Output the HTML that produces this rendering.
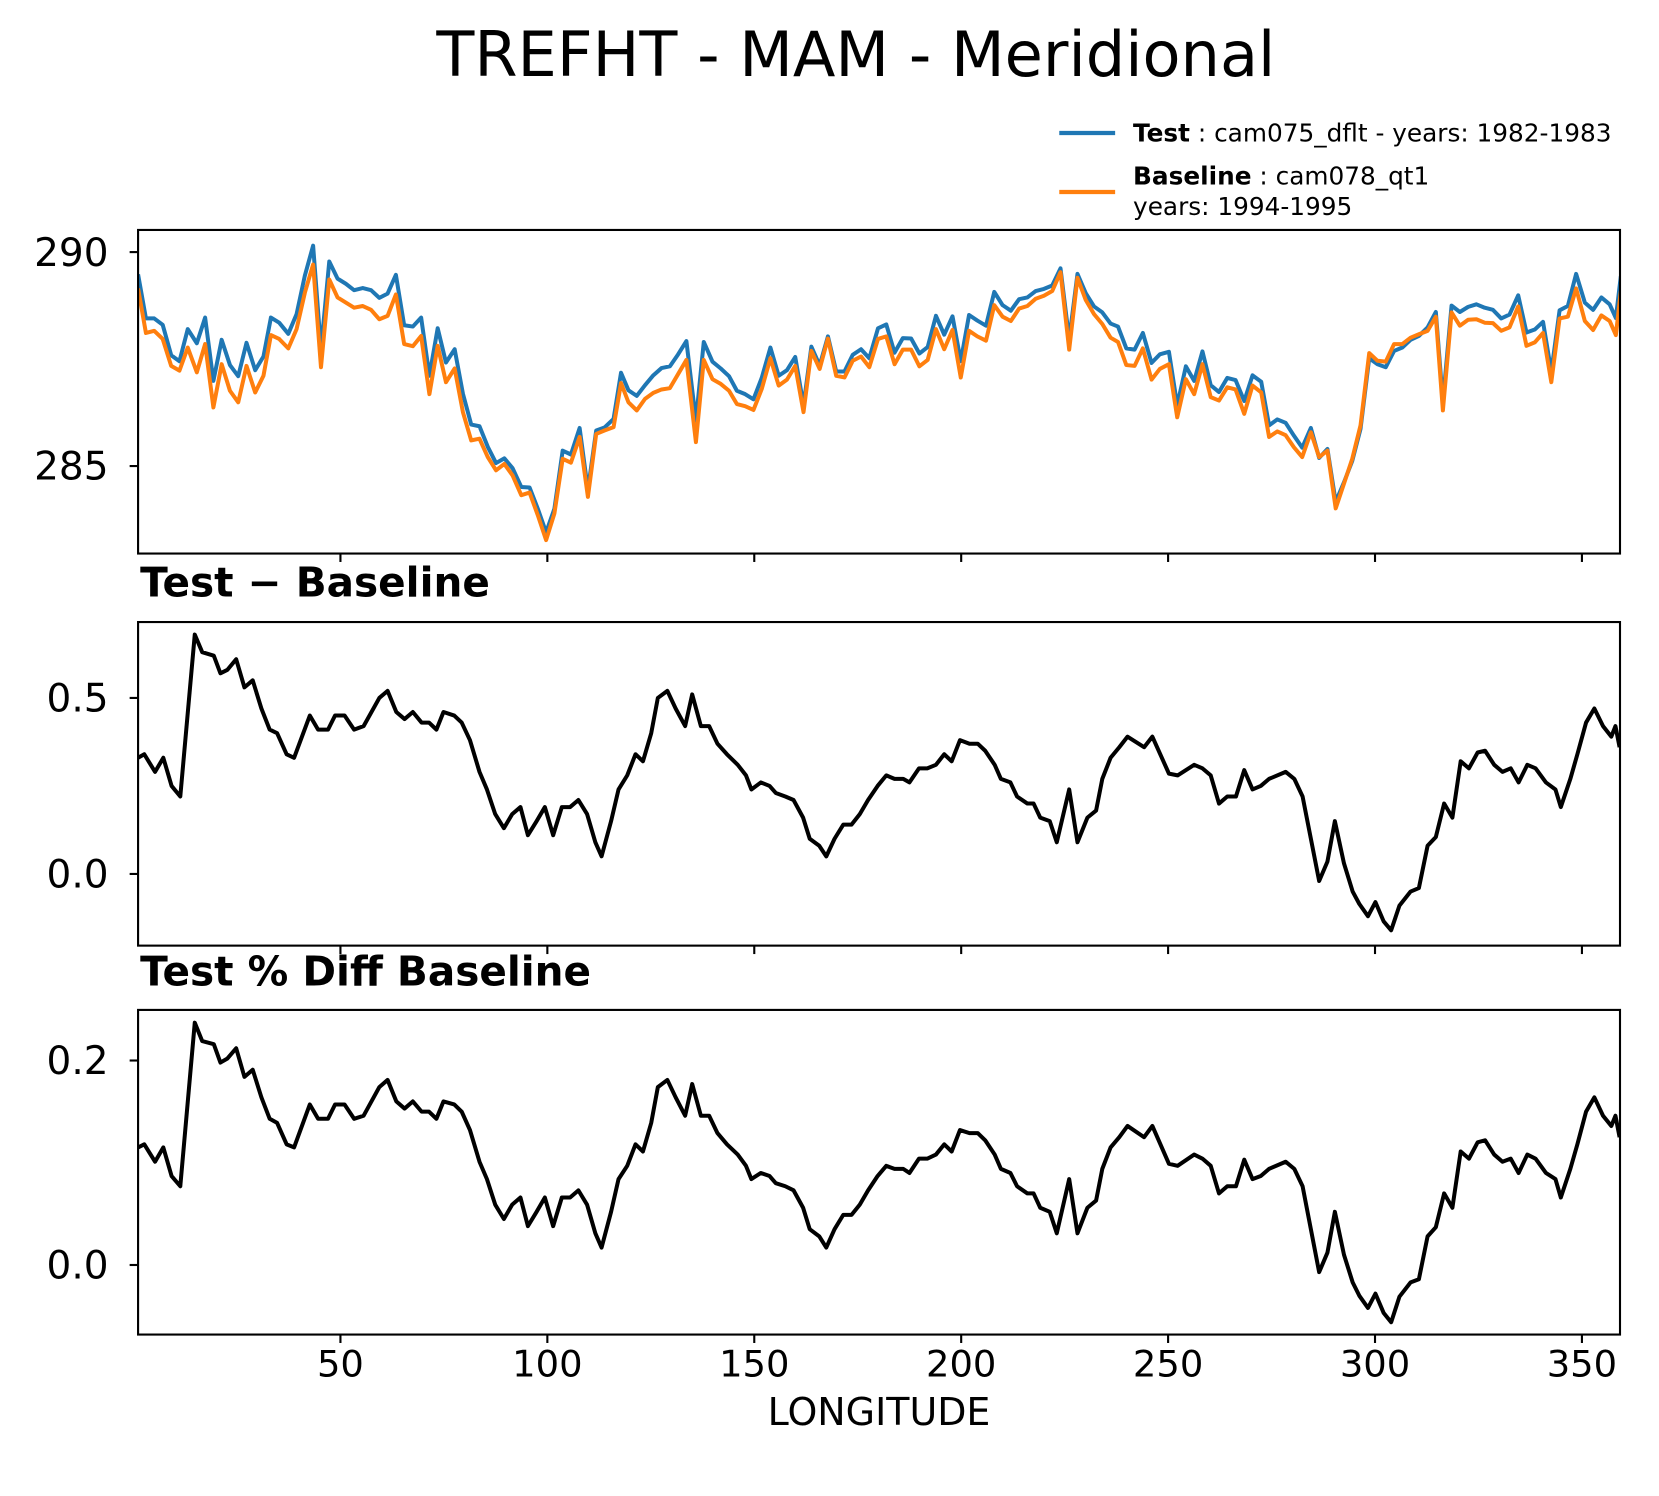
<!DOCTYPE html>
<html><head><meta charset="utf-8"><style>
html,body{margin:0;padding:0;background:#fff;}
svg{display:block;font-family:"DejaVu Sans","Liberation Sans",sans-serif;}
</style></head><body>
<svg id="fig" width="1659" height="1496" viewBox="0 0 1574 1419" xmlns="http://www.w3.org/2000/svg">
<rect width="1574" height="1419" fill="#fff"/>
<text x="812" y="72" font-size="59" text-anchor="middle">TREFHT - MAM - Meridional</text>
<g>
<line x1="1005" y1="126" x2="1058" y2="126" stroke="#1f77b4" stroke-width="4"/>
<text x="1075" y="134" font-size="23.5"><tspan font-weight="bold">Test</tspan> : cam075_dflt - years: 1982-1983</text>
<line x1="1005" y1="182" x2="1058" y2="182" stroke="#ff7f0e" stroke-width="4"/>
<text x="1075" y="175" font-size="23.5"><tspan font-weight="bold">Baseline</tspan> : cam078_qt1</text>
<text x="1075" y="204" font-size="23.5">years: 1994-1995</text>
</g>
<text x="133" y="566" font-size="38.5" font-weight="bold">Test − Baseline</text>
<text x="133" y="935" font-size="38.5" font-weight="bold">Test % Diff Baseline</text>
<text x="834" y="1352" font-size="36" text-anchor="middle">LONGITUDE</text>
<g id="plots"></g>
</svg>
<script>
const lonTop=[1.1,3.0,5.0,7.05,9.1,11.1,13.1,15.3,17.3,19.3,21.3,23.3,25.3,27.3,29.4,31.4,33.2,35.2,37.4,39.4,41.4,43.4,45.3,47.3,49.3,51.3,53.3,55.4,57.4,59.4,61.4,63.4,65.4,67.5,69.5,71.5,73.5,75.5,77.6,79.6,81.6,83.6,85.6,87.6,89.6,91.6,93.7,95.7,97.7,99.7,101.7,103.7,105.7,107.8,109.8,111.8,113.8,116.0,117.8,119.6,121.6,123.6,125.6,127.6,129.6,131.6,133.6,135.9,137.8,139.9,141.9,143.9,145.8,147.8,149.8,151.8,153.9,155.9,157.9,159.9,161.9,163.8,165.8,167.8,169.8,171.8,173.8,175.8,177.8,179.9,181.9,183.9,185.9,187.9,189.9,191.9,193.9,195.9,197.9,199.9,201.9,203.9,206.0,208.0,210.0,212.0,214.0,216.0,218.0,220.0,222.0,224.0,226.1,228.1,230.1,232.1,234.1,236.1,237.9,239.9,241.9,243.9,246.0,248.0,250.2,252.2,254.3,256.3,258.3,260.3,262.3,264.3,266.3,268.4,270.4,272.5,274.4,276.4,278.4,280.4,282.4,284.5,286.5,288.5,290.5,292.5,294.5,296.5,298.6,300.6,302.6,304.6,306.6,308.6,310.6,312.7,314.7,316.4,318.5,320.5,322.5,324.5,326.5,328.5,330.5,332.5,334.6,336.6,338.6,340.6,342.6,344.6,346.6,348.6,350.7,352.7,354.7,356.7,358.2,359.4];
const baseline=[289.15,288.11,288.16,287.97,287.34,287.23,287.77,287.19,287.85,286.37,287.38,286.76,286.49,287.34,286.72,287.11,288.06,287.97,287.75,288.20,289.05,289.71,287.31,289.36,288.94,288.82,288.70,288.74,288.65,288.43,288.51,289.01,287.85,287.80,288.04,286.68,287.81,286.96,287.28,286.26,285.60,285.64,285.21,284.90,285.05,284.78,284.32,284.38,283.85,283.27,283.89,285.17,285.08,285.68,284.28,285.75,285.83,285.91,286.94,286.49,286.30,286.57,286.71,286.79,286.82,287.15,287.48,285.56,287.48,287.03,286.92,286.76,286.45,286.40,286.31,286.80,287.52,286.88,287.02,287.34,286.26,287.69,287.27,287.98,287.11,287.07,287.46,287.56,287.31,287.97,288.03,287.38,287.72,287.72,287.33,287.48,288.20,287.73,288.18,287.07,288.16,288.03,287.93,288.76,288.49,288.39,288.68,288.74,288.91,288.98,289.09,289.53,287.72,289.40,288.88,288.55,288.32,288.00,287.90,287.36,287.34,287.75,287.02,287.27,287.38,286.14,287.03,286.68,287.38,286.61,286.53,286.84,286.79,286.22,286.88,286.72,285.68,285.81,285.72,285.44,285.21,285.79,285.21,285.36,284.01,284.59,285.17,285.95,287.64,287.46,287.44,287.85,287.85,288.00,288.08,288.16,288.49,286.30,288.59,288.28,288.42,288.43,288.35,288.34,288.16,288.24,288.73,287.81,287.89,288.11,286.96,288.45,288.49,289.15,288.39,288.18,288.52,288.39,288.06,289.09];
const test=[289.48,288.45,288.45,288.30,287.59,287.45,288.20,287.87,288.47,286.99,287.95,287.36,287.10,287.88,287.24,287.56,288.47,288.35,288.09,288.55,289.45,290.15,287.72,289.78,289.38,289.26,289.11,289.16,289.11,288.93,289.03,289.47,288.29,288.26,288.47,287.11,288.22,287.42,287.73,286.69,285.97,285.93,285.45,285.07,285.18,284.95,284.51,284.50,284.00,283.45,284.00,285.36,285.27,285.89,284.44,285.83,285.90,286.10,287.18,286.77,286.64,286.89,287.12,287.29,287.33,287.61,287.92,286.06,287.90,287.44,287.28,287.10,286.76,286.68,286.56,287.06,287.77,287.11,287.24,287.55,286.42,287.79,287.35,288.03,287.21,287.21,287.60,287.73,287.52,288.22,288.31,287.65,287.99,287.98,287.63,287.78,288.51,288.07,288.50,287.45,288.53,288.40,288.28,289.07,288.76,288.63,288.90,288.94,289.09,289.14,289.22,289.62,287.96,289.49,289.04,288.73,288.59,288.33,288.26,287.75,287.72,288.11,287.41,287.61,287.67,286.42,287.33,286.99,287.68,286.89,286.73,287.06,287.01,286.52,287.12,286.97,285.95,286.09,286.01,285.71,285.43,285.89,285.19,285.40,284.16,284.62,285.12,285.87,287.52,287.38,287.31,287.69,287.77,287.95,288.04,288.24,288.60,286.50,288.75,288.60,288.72,288.78,288.70,288.65,288.45,288.54,288.99,288.12,288.19,288.37,287.20,288.64,288.74,289.49,288.82,288.65,288.94,288.78,288.46,289.44];
const lonDiff=[1.1,2.6,5.2,7.2,9.2,11.3,14.8,16.6,19.4,21.0,22.7,24.8,26.8,28.8,30.9,32.9,34.7,37.0,38.8,42.6,44.6,47.0,48.7,51.0,53.3,55.6,59.4,61.4,63.5,65.5,67.5,69.6,71.4,73.2,74.9,77.5,79.3,81.3,83.6,85.4,87.4,89.5,91.5,93.5,95.3,97.4,99.4,101.4,103.5,105.5,107.5,109.6,111.6,113.1,115.4,117.2,119.3,121.3,123.1,125.1,126.7,129.0,131.0,133.3,135.0,137.1,139.1,141.1,143.4,146.0,148.0,149.3,151.6,153.7,155.2,157.5,159.5,161.8,163.4,165.7,167.4,169.4,171.5,173.5,175.5,177.5,179.8,181.9,183.9,186.0,187.5,189.8,191.8,193.9,195.9,197.7,199.7,202.0,204.0,205.8,208.1,209.6,211.9,213.5,216.0,217.5,219.1,221.4,223.1,226.1,228.1,230.5,232.6,234.1,236.1,238.2,240.2,244.2,246.2,250.2,252.3,256.3,258.3,260.3,262.3,264.3,266.4,268.4,270.4,272.4,274.4,278.4,280.5,282.5,284.5,286.5,288.5,290.3,292.5,294.6,296.2,298.3,300.1,302.1,303.9,305.9,308.6,310.6,312.7,314.7,316.7,318.7,320.7,322.7,324.8,326.6,328.8,330.8,332.8,334.7,336.8,338.8,341.3,343.6,344.9,347.2,348.9,351.0,353.0,355.1,357.1,358.1,359.1];
const diff=[0.33,0.34,0.29,0.33,0.25,0.22,0.68,0.63,0.62,0.57,0.58,0.61,0.53,0.55,0.47,0.41,0.40,0.34,0.33,0.45,0.41,0.41,0.45,0.45,0.41,0.42,0.50,0.52,0.46,0.44,0.46,0.43,0.43,0.41,0.46,0.45,0.43,0.38,0.29,0.24,0.17,0.13,0.17,0.19,0.11,0.15,0.19,0.11,0.19,0.19,0.21,0.17,0.09,0.05,0.15,0.24,0.28,0.34,0.32,0.40,0.50,0.52,0.47,0.42,0.51,0.42,0.42,0.37,0.34,0.31,0.28,0.24,0.26,0.25,0.23,0.22,0.21,0.16,0.10,0.08,0.05,0.10,0.14,0.14,0.17,0.21,0.25,0.28,0.27,0.27,0.26,0.30,0.30,0.31,0.34,0.32,0.38,0.37,0.37,0.35,0.31,0.27,0.26,0.22,0.20,0.20,0.16,0.15,0.09,0.24,0.09,0.16,0.18,0.27,0.33,0.36,0.39,0.36,0.39,0.285,0.28,0.31,0.30,0.28,0.20,0.22,0.22,0.295,0.24,0.25,0.27,0.29,0.27,0.22,0.10,-0.02,0.035,0.15,0.03,-0.05,-0.085,-0.12,-0.08,-0.135,-0.16,-0.09,-0.05,-0.04,0.08,0.105,0.20,0.16,0.32,0.30,0.345,0.35,0.31,0.29,0.30,0.26,0.31,0.30,0.26,0.24,0.19,0.27,0.34,0.43,0.47,0.42,0.39,0.42,0.36];
const pctDiff=[0.115,0.118,0.101,0.115,0.087,0.077,0.237,0.219,0.216,0.198,0.202,0.212,0.184,0.191,0.164,0.143,0.139,0.118,0.115,0.157,0.143,0.143,0.157,0.157,0.143,0.146,0.174,0.181,0.160,0.153,0.160,0.150,0.150,0.143,0.160,0.157,0.150,0.132,0.101,0.084,0.059,0.045,0.059,0.066,0.038,0.052,0.066,0.038,0.066,0.066,0.073,0.059,0.031,0.017,0.052,0.084,0.097,0.118,0.111,0.139,0.174,0.181,0.164,0.146,0.177,0.146,0.146,0.129,0.118,0.108,0.097,0.084,0.090,0.087,0.080,0.077,0.073,0.056,0.035,0.028,0.017,0.035,0.049,0.049,0.059,0.073,0.087,0.097,0.094,0.094,0.090,0.104,0.104,0.108,0.118,0.111,0.132,0.129,0.129,0.122,0.108,0.094,0.090,0.077,0.070,0.070,0.056,0.052,0.031,0.084,0.031,0.056,0.063,0.094,0.115,0.125,0.136,0.125,0.136,0.099,0.097,0.108,0.104,0.097,0.070,0.077,0.077,0.103,0.084,0.087,0.094,0.101,0.094,0.077,0.035,-0.007,0.012,0.052,0.010,-0.017,-0.030,-0.042,-0.028,-0.047,-0.056,-0.031,-0.017,-0.014,0.028,0.037,0.070,0.056,0.111,0.104,0.120,0.122,0.108,0.101,0.104,0.090,0.108,0.104,0.090,0.084,0.066,0.094,0.118,0.150,0.164,0.146,0.136,0.146,0.125];
const xTicks=[50,100,150,200,250,300,350];
const topTicks=[285,290];
const diffTicks=[0.0,0.5];
const pctTicks=[0.0,0.2];

const NS='http://www.w3.org/2000/svg';
const L=131,R=1537;
const xDomain=[1.1,359.2];
function xs(v){return L+(v-xDomain[0])/(xDomain[1]-xDomain[0])*(R-L);}
function mk(tag,attrs,parent){const e=document.createElementNS(NS,tag);for(const k in attrs)e.setAttribute(k,attrs[k]);parent.appendChild(e);return e;}
const root=document.getElementById('plots');
const panels=[
 {top:218,bot:525,y0:285,py0:442,y1:290,py1:239,ticks:topTicks,fmt:v=>v.toFixed(0),name:'mean-panel',xl:false},
 {top:590,bot:897,y0:0,py0:829,y1:0.5,py1:662,ticks:diffTicks,fmt:v=>v.toFixed(1),name:'diff-panel',xl:false},
 {top:958,bot:1266,y0:0,py0:1200,y1:0.2,py1:1006,ticks:pctTicks,fmt:v=>v.toFixed(1),name:'pct-panel',xl:true}
];
panels.forEach((p,i)=>{
 const ys=v=>p.py0+(v-p.y0)/(p.y1-p.y0)*(p.py1-p.py0);
 const g=mk('g',{},root);
 
 
 const cp=mk('clipPath',{id:'cp'+i},g);
 mk('rect',{x:L,y:p.top,width:R-L,height:p.bot-p.top},cp);
 const series=[];
 if(i===0){series.push([lonTop,test,'#1f77b4','test-line']);series.push([lonTop,baseline,'#ff7f0e','baseline-line']);}
 else if(i===1){series.push([lonDiff,diff,'#000','diff-line']);}
 else {series.push([lonDiff,pctDiff,'#000','pct-diff-line']);}
 series.forEach(s=>{
  const d=s[0].map((lon,j)=>(j?'L':'M')+xs(lon).toFixed(2)+','+ys(s[1][j]).toFixed(2)).join('');
  const path=mk('path',{d:d,fill:'none',stroke:s[2],'stroke-width':3.8,'stroke-linejoin':'round','clip-path':'url(#cp'+i+')'},g);
  
  
 });
 const fr=mk('rect',{x:L,y:p.top,width:R-L,height:p.bot-p.top,fill:'none',stroke:'#000','stroke-width':2},g);
 
 
 p.ticks.forEach(t=>{
  const y=ys(t);
  mk('line',{x1:L-8,y1:y,x2:L,y2:y,stroke:'#000','stroke-width':2},g);
  const tx=mk('text',{x:L-28,y:y+13,'font-size':37,'text-anchor':'end'},g);
  tx.textContent=p.fmt(t);
  
  
 });
 xTicks.forEach(t=>{
  const x=xs(t);
  mk('line',{x1:x,y1:p.bot,x2:x,y2:p.bot+8,stroke:'#000','stroke-width':2},g);
  if(p.xl){
   const tx=mk('text',{x:x,y:p.bot+40,'font-size':35,'text-anchor':'middle'},g);
   tx.textContent=String(t);
   
   
  }
 });
});
</script>
</body></html>
